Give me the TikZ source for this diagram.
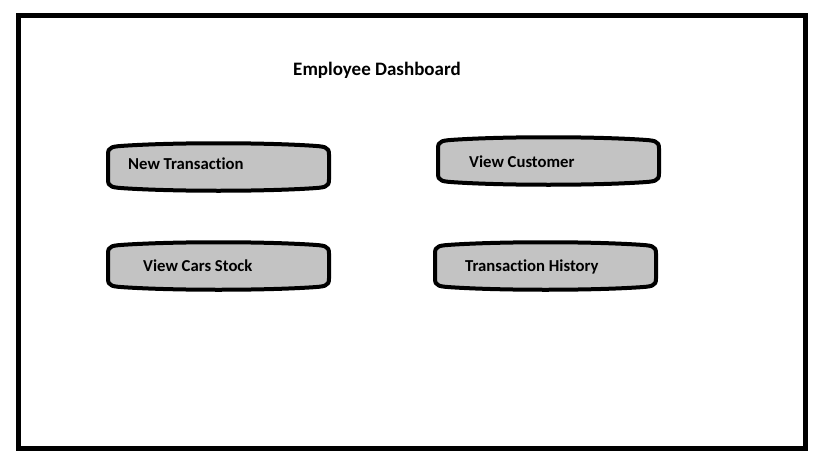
\documentclass[tikz,border=0pt]{standalone}
\usepackage{fontspec}
\setmainfont{Carlito}[Ligatures={NoCommon,NoContextual}]
\definecolor{btngray}{HTML}{C3C3C3}
\tikzset{
  frame/.style={draw=black, line width=5pt},
  btnshape/.style={draw=black, fill=btngray, line width=4pt, line join=round},
  btntext/.style={anchor=base west, inner sep=0pt, font=\fontsize{16.7}{18}\selectfont\bfseries},
  titletext/.style={anchor=base, inner sep=0pt, font=\fontsize{19}{21}\selectfont\bfseries}
}
% #1 x1, #2 y1, #3 width, #4 height
\newcommand\btnpath[4]{%
  \begin{scope}[shift={(#1,#2)}]
    \path[btnshape] (0,11) .. controls (0,3) and (4,3) .. (20,2)
      .. controls (70,-1) and ({#3-70},-1) .. ({#3-20},2)
      .. controls ({#3-4},3) and (#3,3) .. (#3,11)
      -- (#3,{#4-11})
      .. controls (#3,{#4-3}) and ({#3-4},{#4-3}) .. ({#3-20},{#4-2})
      .. controls ({#3-70},{#4+1}) and (70,{#4+1}) .. (20,{#4-2})
      .. controls (4,{#4-3}) and (0,{#4-3}) .. (0,{#4-11}) -- cycle;
  \end{scope}}
\begin{document}
\begin{tikzpicture}[x=1pt,y=-1pt]
\useasboundingbox (0,0) rectangle (819,460);
\draw[frame] (18.5,15.5) rectangle (805,448);
\node[titletext] (title) at (377,75) {Employee Dashboard};
\btnpath{108}{143.5}{221}{47}
\btnpath{438}{137.5}{221}{47}
\btnpath{108}{242.5}{221}{47}
\btnpath{435}{242.5}{221}{47}
\node[btntext] (newtx) at (128,169) {New Transaction};
\node[btntext] (viewcust) at (469,167) {View Customer};
\node[btntext] (viewcars) at (143,271) {View Cars Stock};
\node[btntext] (txhist) at (465,271) {Transaction History};
\end{tikzpicture}
\end{document}
